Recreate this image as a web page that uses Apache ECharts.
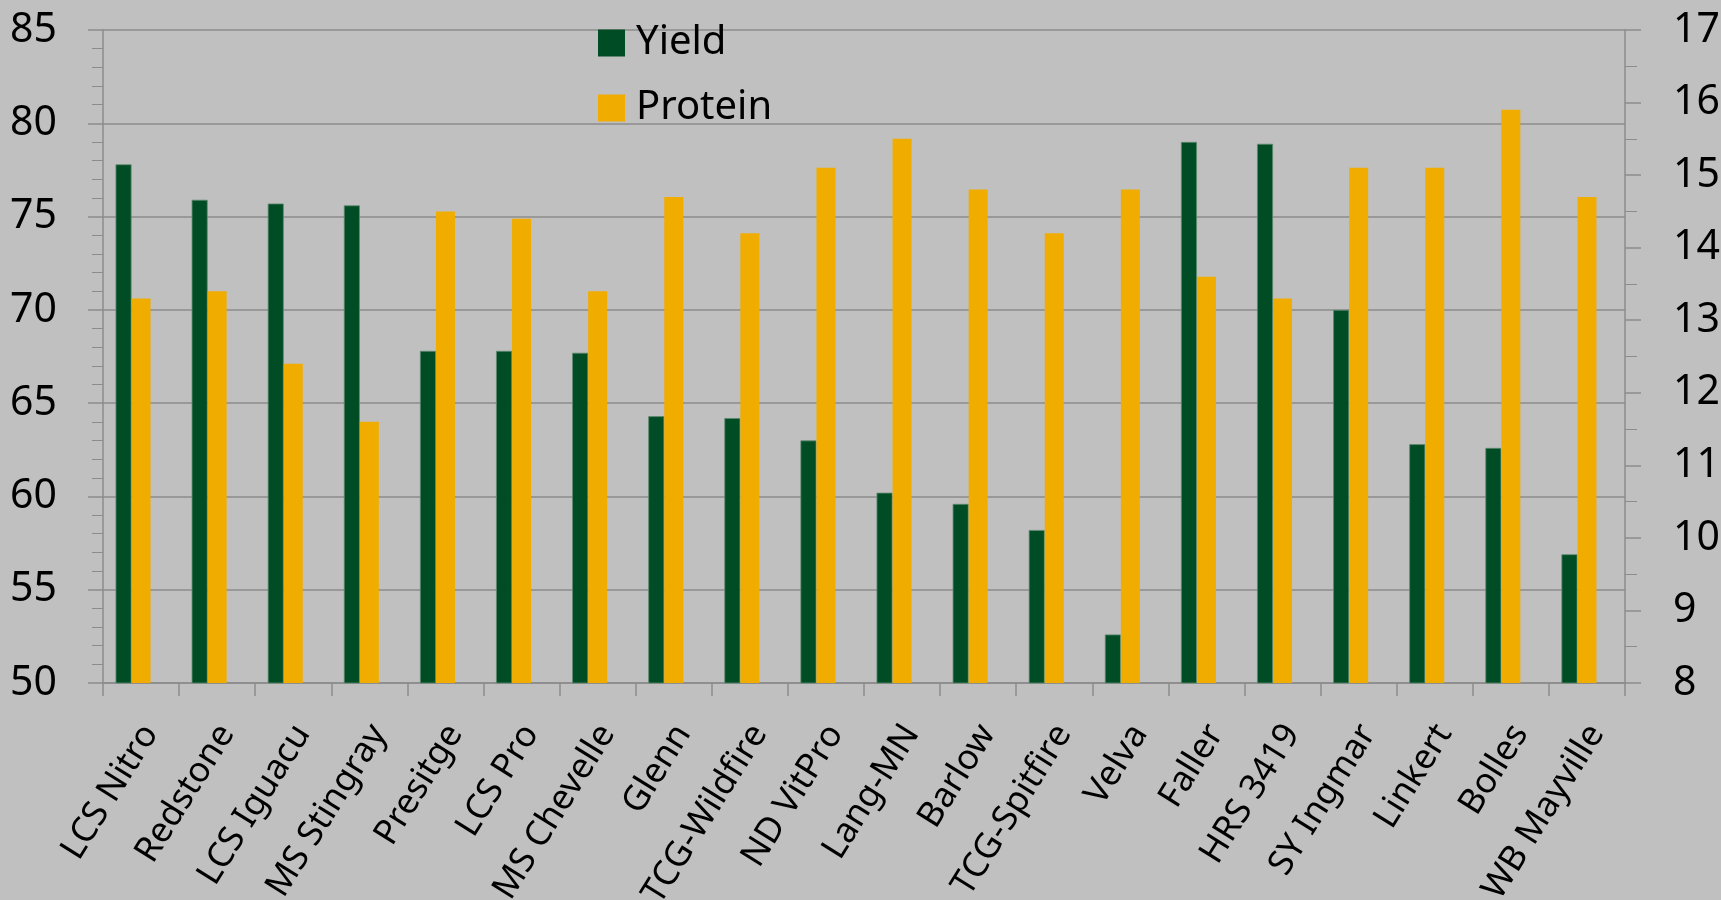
<!DOCTYPE html>
<html>
<head>
<meta charset="utf-8">
<script src="https://cdn.jsdelivr.net/npm/echarts@6/dist/echarts.min.js"></script>
<style>
html,body{margin:0;padding:0;background:#C0C0C0;}
#chart{width:1721px;height:900px;}
</style>
</head>
<body>
<div id="chart"></div>
<script>
const categories = ['LCS Nitro','Redstone','LCS Iguacu','MS Stingray','Presitge','LCS Pro','MS Chevelle','Glenn','TCG-Wildfire','ND VitPro','Lang-MN','Barlow','TCG-Spitfire','Velva','Faller','HRS 3419','SY Ingmar','Linkert','Bolles','WB Mayville'];
const yieldValues = [77.8,75.9,75.7,75.6,67.8,67.8,67.7,64.3,64.2,63.0,60.2,59.6,58.2,52.6,79.0,78.9,70.0,62.8,62.6,56.9];
const proteinValues = [13.3,13.4,12.4,11.6,14.5,14.4,13.4,14.7,14.2,15.1,15.5,14.8,14.2,14.8,13.6,13.3,15.1,15.1,15.9,14.7];
const leftTicks = [50,55,60,65,70,75,80,85];
const rightTicks = [8,9,10,11,12,13,14,15,16,17];

const FONT = 'Noto Sans';
const AXIS = '#8C8C8C';

const chart = echarts.init(document.getElementById('chart'));
chart.setOption({
  backgroundColor: '#C0C0C0',
  animation: false,
  textStyle: {fontFamily: FONT},
  legend: {
    data: ['Yield','Protein'],
    orient: 'vertical',
    left: 598,
    top: 23,
    padding: 0,
    itemWidth: 27,
    itemHeight: 27,
    itemGap: 25,
    icon: 'rect',
    itemStyle: {borderWidth: 0},
    textStyle: {fontFamily: FONT, fontSize: 40, color: '#000', padding: [0,0,0,6]}
  },
  grid: {left: 103, right: 96, top: 30, bottom: 217, containLabel: false, outerBoundsMode: 'none'},
  xAxis: {
    type: 'category',
    data: categories,
    boundaryGap: true,
    axisLine: {lineStyle: {color: AXIS, width: 1.5}},
    axisTick: {show: true, interval: 0, length: 13, lineStyle: {color: AXIS, width: 1.5}},
    axisLabel: {interval: 0, rotate: 58, margin: 39, verticalAlign: 'top', lineHeight: 22,
      fontSize: 35, color: '#000', fontFamily: FONT, hideOverlap: false}
  },
  yAxis: [
    {
      type: 'value',
      min: leftTicks[0], max: leftTicks[leftTicks.length-1], interval: 5,
      axisLine: {show: true, lineStyle: {color: AXIS, width: 1.5}},
      axisTick: {show: true, inside: false, length: 15, lineStyle: {color: AXIS, width: 1.5}},
      minorTick: {show: true, splitNumber: 5, length: 11, lineStyle: {color: AXIS, width: 1}},
      splitLine: {show: true, lineStyle: {color: AXIS, width: 1.5}},
      axisLabel: {fontSize: 41, color: '#000', margin: 46, fontFamily: FONT}
    },
    {
      type: 'value',
      min: rightTicks[0], max: rightTicks[rightTicks.length-1], interval: 1,
      axisLine: {show: true, lineStyle: {color: AXIS, width: 1.5}},
      axisTick: {show: true, inside: false, length: 16, lineStyle: {color: AXIS, width: 1.5}},
      minorTick: {show: true, splitNumber: 2, length: 12, lineStyle: {color: AXIS, width: 1}},
      splitLine: {show: false},
      axisLabel: {fontSize: 41, color: '#000', margin: 48, fontFamily: FONT}
    }
  ],
  series: [
    {
      name: 'Yield', type: 'bar', yAxisIndex: 0, data: yieldValues,
      barWidth: 16, barGap: '0%',
      itemStyle: {color: '#004D25', borderColor: '#5E8A70', borderWidth: 0.8}
    },
    {
      name: 'Protein', type: 'bar', yAxisIndex: 1, data: proteinValues,
      barWidth: 19, barGap: '0%',
      itemStyle: {color: '#F0AD00'}
    },
    {
      // empty placeholder slot: the reference leaves an empty third slot in each group
      name: 'spacer', type: 'bar', yAxisIndex: 0, data: [],
      barWidth: 16, barGap: '0%', silent: true
    }
  ]
});
</script>
</body>
</html>
